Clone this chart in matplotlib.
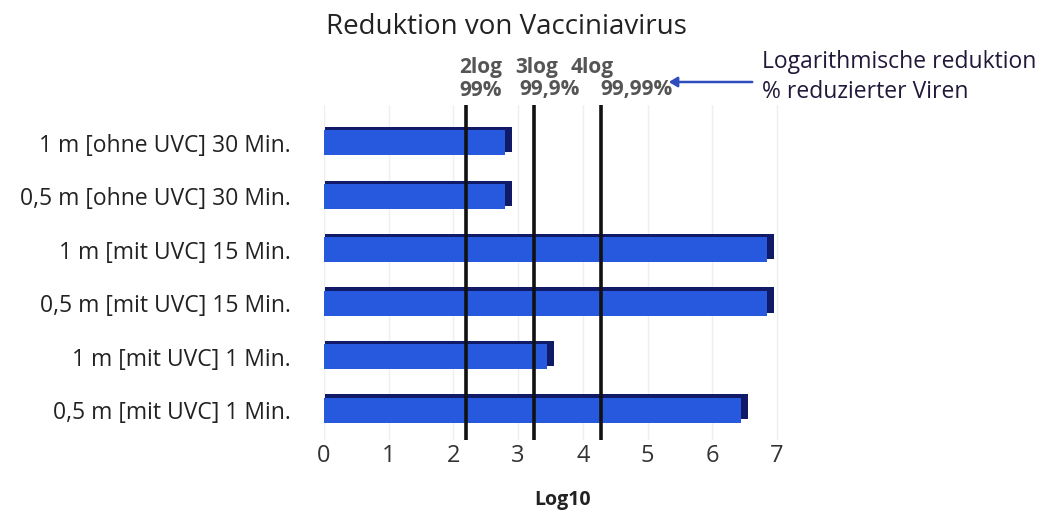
import matplotlib
matplotlib.use("Agg")
import matplotlib.pyplot as plt

plt.rcParams['font.family'] = ['Open Sans', 'DejaVu Sans']

categories = ["1 m [ohne UVC] 30 Min.", "0,5 m [ohne UVC] 30 Min.",
              "1 m [mit UVC] 15 Min.", "0,5 m [mit UVC] 15 Min.",
              "1 m [mit UVC] 1 Min.", "0,5 m [mit UVC] 1 Min."]
values = [2.8, 2.8, 6.85, 6.85, 3.45, 6.45]
ref_lines = [2.2, 3.24, 4.28]
ref_top = ["2log", "3log", "4log"]
ref_bottom = ["99%", "99,9%", "99,99%"]
xticks = [0, 1, 2, 3, 4, 5, 6, 7]

W, H = 1044, 513
fig = plt.figure(figsize=(W / 100, H / 100), dpi=100)
ax = fig.add_axes([324 / W, 1 - 440 / H, 466 / W, 335 / H])

ypos = list(range(len(categories)))
h = 0.47
# 3D-ish depth: dark back bar shifted up/right
ax.barh([y - 0.06 for y in ypos], [v + 0.08 for v in values], height=h,
        left=0.02, color='#101a66', zorder=2)
ax.barh(ypos, values, height=h, color='#2659DD', zorder=3)

for x in ref_lines:
    ax.axvline(x, color='#111111', lw=2.6, zorder=4)

ax.set_xlim(0, 7.2)
ax.set_ylim(5.56, -0.71)
ax.set_yticks(ypos)
ax.set_yticklabels(categories, fontsize=16.5, color='#222222')
ax.set_xticks(xticks)
ax.set_xticklabels([str(t) for t in xticks], fontsize=17, color='#333333')
ax.tick_params(axis='y', length=0, pad=24)
ax.tick_params(axis='x', length=0, pad=3)
for s in ax.spines.values():
    s.set_visible(False)
ax.grid(axis='x', color='#eeeeee', lw=1, zorder=0)
ax.set_axisbelow(True)

fig.text(506 / W, 1 - 27 / H, "Reduktion von Vacciniavirus", fontsize=20,
         ha='center', va='center', color='#222222')
fig.text(563 / W, 1 - 500 / H, "Log10", fontsize=14, fontweight='bold',
         ha='center', va='center', color='#222222')

top_x = [459, 515, 571]
bot_x = [459, 519, 600]
for t, px in zip(ref_top, top_x):
    fig.text(px / W, 1 - 68 / H, t, fontsize=15, fontweight='bold',
             ha='left', va='center', color='#555555')
for t, px in zip(ref_bottom, bot_x):
    fig.text(px / W, 1 - 90 / H, t, fontsize=15, fontweight='bold',
             ha='left', va='center', color='#555555')

fig.text(762 / W, 1 - 62 / H, "Logarithmische reduktion", fontsize=16.5,
         ha='left', va='center', color='#22183a')
fig.text(762 / W, 1 - 92 / H, "% reduzierter Viren", fontsize=16.5,
         ha='left', va='center', color='#22183a')
fig.add_artist(matplotlib.patches.FancyArrowPatch(
    (755 / W, 1 - 82 / H), (666 / W, 1 - 82 / H), transform=fig.transFigure,
    arrowstyle='-|>,head_length=5,head_width=3', color='#2E4DBF', lw=1.8))

fig.savefig("out.png", dpi=100, facecolor='white')
